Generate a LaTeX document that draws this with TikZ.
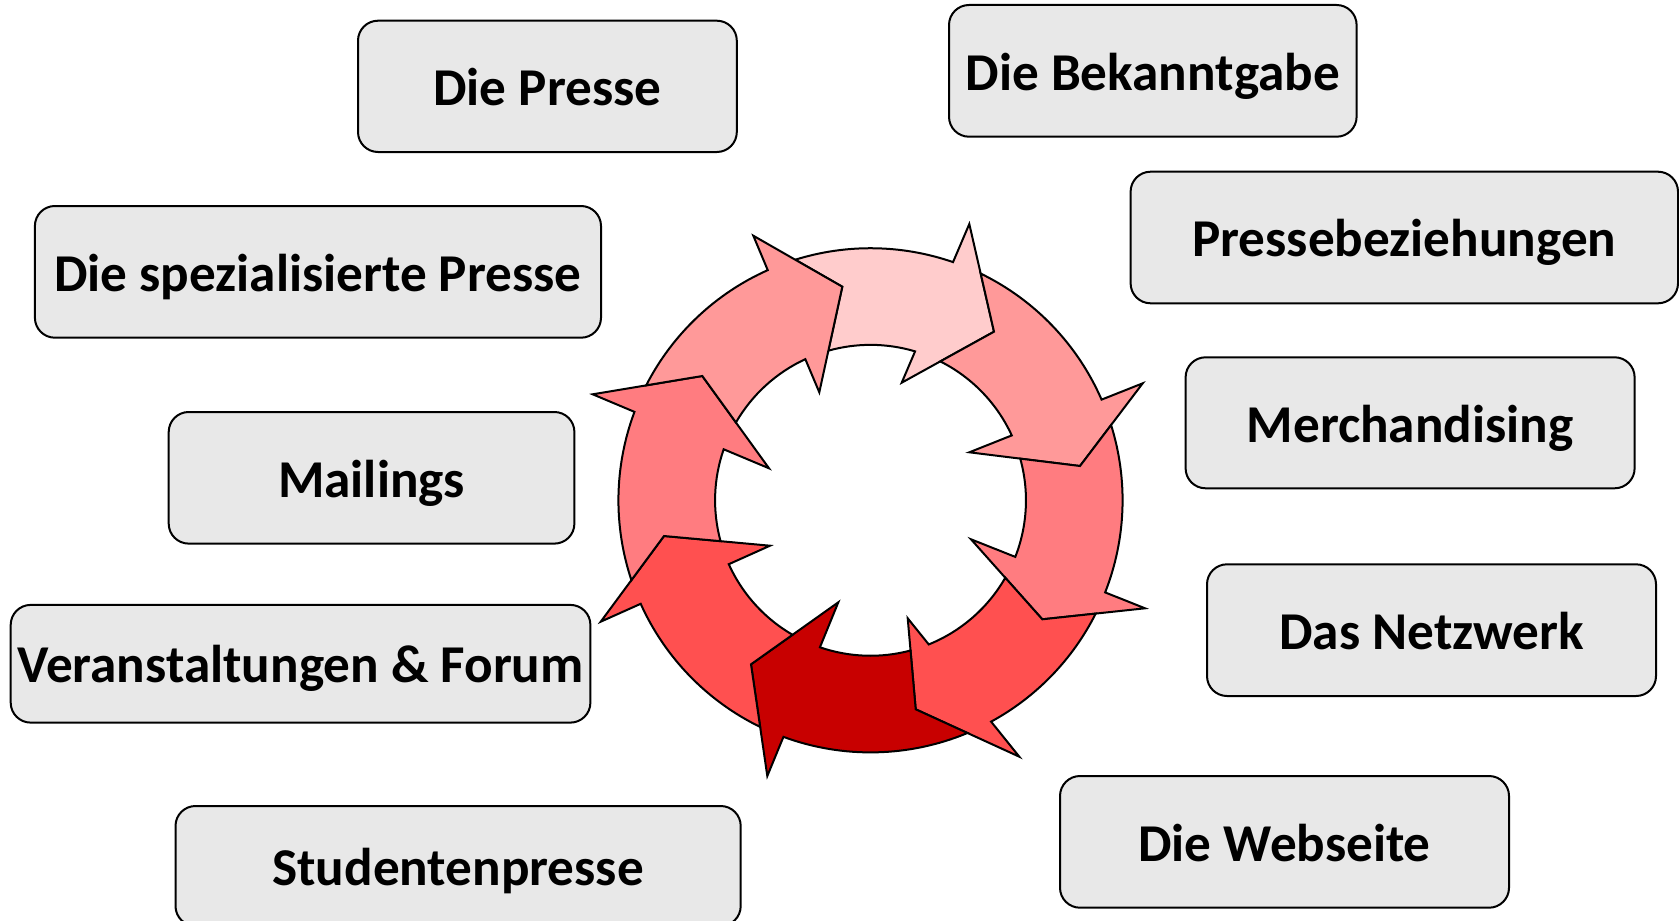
\documentclass[tikz,border=0pt]{standalone}
\usepackage{fontspec}
\setmainfont{Carlito}
\usetikzlibrary{calc,intersections}
\definecolor{boxgray}{HTML}{E8E8E8}
\definecolor{cA}{HTML}{FFCCCC}
\definecolor{cB}{HTML}{FF9999}
\definecolor{cC}{HTML}{FF7C80}
\definecolor{cD}{HTML}{FF5050}
\definecolor{cE}{HTML}{C80000}
% #1 previous arrow, #2 this arrow, #3 colour
\newcommand\ringarrow[3]{%
  \draw[arw, fill=#3] let \p1=($(Ao#1)-(C)$), \p2=($(So#2)-(C)$),
      \p3=($(Si#2)-(C)$), \p4=($(Ai#1)-(C)$),
      \n1={atan2(\y1,\x1)}, \n2={atan2(\y2,\x2)},
      \n3={atan2(\y3,\x3)}, \n4={atan2(\y4,\x4)},
      \n5={\n2-360*(\n2>\n1)}, \n6={\n4+360*(\n4<\n3)} in
    (Ao#1) arc[start angle=\n1, end angle=\n5, radius=252]
    -- (O#2) -- (T#2) -- (I#2) -- (Si#2)
    arc[start angle=\n3, end angle=\n6, radius=155.4]
    -- (T#1) -- cycle;}
\begin{document}
\begin{tikzpicture}[x=0.5pt,y=0.5pt,
  box/.style={draw=black, line width=1pt, fill=boxgray, rounded corners=10pt,
    inner sep=0pt, font=\fontsize{26.6pt}{32pt}\selectfont\bfseries,
    text height=19.2pt, text depth=0pt},
  arw/.style={draw=black, line width=1pt, line join=miter}]
\clip (0,0) rectangle (1679,-920);

% ring of arrows
\coordinate (C) at (870.5,-500.3);
\coordinate (O1) at (969.3,-224);   \coordinate (T1) at (994,-331.7);   \coordinate (I1) at (901.7,-382.7);
\coordinate (O2) at (1142.7,-383.3);\coordinate (T2) at (1080,-466);    \coordinate (I2) at (969.3,-452.3);
\coordinate (O3) at (1145,-608.3);  \coordinate (T3) at (1042.3,-619.3);\coordinate (I3) at (971,-539.3);
\coordinate (O4) at (1019.3,-756.7);\coordinate (T4) at (915.7,-709.3); \coordinate (I4) at (907.7,-618.3);
\coordinate (O5) at (767.3,-776);   \coordinate (T5) at (751,-664.3);   \coordinate (I5) at (838.3,-602.3);
\coordinate (O6) at (600.7,-621.7); \coordinate (T6) at (664,-536);     \coordinate (I6) at (770,-545.7);
\coordinate (O7) at (592.7,-394.3); \coordinate (T7) at (702.3,-376);   \coordinate (I7) at (769,-468.3);
\coordinate (O8) at (753.3,-235.7); \coordinate (T8) at (842.3,-286.7); \coordinate (I8) at (819.3,-392.3);

\path[name path global=outer] (C) circle[radius=252];
\path[name path global=inner] (C) circle[radius=155.4];
\foreach \k in {1,...,8}{
  \path[name path=b\k] (O\k) -- (I\k);
  \path[name path=e\k] (O\k) -- (T\k);
  \path[name path=f\k] (I\k) -- (T\k);
  \path[name intersections={of=outer and b\k, by={So\k}}];
  \path[name intersections={of=inner and b\k, by={Si\k}}];
  \path[name intersections={of=outer and e\k, by={Ao\k}}];
  \path[name intersections={of=inner and f\k, by={Ai\k}}];
}

\ringarrow{8}{1}{cA}
\ringarrow{1}{2}{cB}
\ringarrow{2}{3}{cC}
\ringarrow{3}{4}{cD}
\ringarrow{4}{5}{cE}
\ringarrow{5}{6}{cD}
\ringarrow{6}{7}{cC}
\ringarrow{7}{8}{cB}

% boxes
\node[box, minimum width=189.4pt, minimum height=65.65pt] (presse) at (547.4,-86.35) {Die Presse};
\node[box, minimum width=203.8pt, minimum height=65.85pt] (bekannt) at (1152.8,-70.85) {Die Bekanntgabe};
\node[box, minimum width=273.7pt, minimum height=65.8pt] (pbez) at (1404.3,-237.5) {Pressebeziehungen};
\node[box, minimum width=224.5pt, minimum height=65.5pt] (merch) at (1410.1,-422.8) {Merchandising};
\node[box, minimum width=224.5pt, minimum height=65.85pt] (netz) at (1431.5,-630.15) {Das Netzwerk};
\node[box, minimum width=224.5pt, minimum height=65.85pt] (web) at (1284.5,-841.85) {Die Webseite};
\node[box, minimum width=283.05pt, minimum height=65.85pt] (spez) at (317.95,-271.85) {Die spezialisierte Presse};
\node[box, minimum width=202.85pt, minimum height=65.8pt] (mail) at (371.55,-477.8) {Mailings};
\node[box, minimum width=289.85pt, minimum height=58.85pt] (veran) at (300.55,-663.75) {Veranstaltungen \& Forum};
\node[box, minimum width=282.6pt, minimum height=60pt] (stud) at (458.1,-866) {Studentenpresse};
\end{tikzpicture}
\end{document}
